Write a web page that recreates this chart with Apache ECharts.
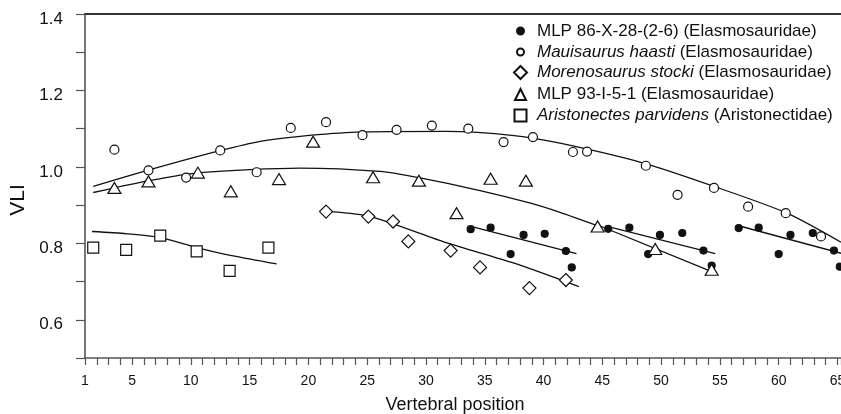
<!DOCTYPE html>
<html>
<head>
<meta charset="UTF-8">
<script src="https://cdn.jsdelivr.net/npm/echarts@6/dist/echarts.min.js"></script>
<style>
html, body { margin: 0; padding: 0; background: #fff; }
#main { width: 841px; height: 414px; }
</style>
</head>
<body>
<div id="main"></div>
<script>
// legend text
var species = ['MLP 86-X-28-(2-6)', 'Mauisaurus haasti', 'Morenosaurus stocki', 'MLP 93-I-5-1', 'Aristonectes parvidens'];
var families = ['Elasmosauridae', 'Elasmosauridae', 'Elasmosauridae', 'Elasmosauridae', 'Aristonectidae'];
var italic = [false, true, true, false, true];

// x axis labels shown
var xLabels = [1, 5, 10, 15, 20, 25, 30, 35, 40, 45, 50, 55, 60, 65];

// MLP 86-X-28-(2-6), filled dots
var mlp86X = [33.8, 35.5, 37.2, 38.3, 40.1, 41.9, 42.4,
              45.5, 47.3, 48.9, 49.9, 51.8, 53.6, 54.3,
              56.6, 58.3, 60.0, 61.0, 62.9, 64.7, 65.2];
var mlp86Y = [0.837, 0.841, 0.772, 0.822, 0.825, 0.780, 0.737,
              0.838, 0.841, 0.772, 0.822, 0.827, 0.781, 0.742,
              0.840, 0.841, 0.772, 0.822, 0.827, 0.781, 0.739];

// Mauisaurus haasti, open circles
var mauiX = [3.5, 6.4, 9.6, 12.5, 15.6, 18.5, 21.5, 24.6, 27.5, 30.5, 33.6, 36.6, 39.1, 42.5, 43.7, 48.7, 51.4, 54.5, 57.4, 60.6, 63.6];
var mauiY = [1.045, 0.991, 0.972, 1.043, 0.986, 1.102, 1.117, 1.083, 1.097, 1.108, 1.100, 1.065, 1.078, 1.039, 1.040, 1.003, 0.927, 0.945, 0.896, 0.879, 0.818];

// Morenosaurus stocki, diamonds
var moreX = [21.5, 25.1, 27.2, 28.5, 32.1, 34.6, 38.8, 41.9];
var moreY = [0.883, 0.870, 0.857, 0.805, 0.781, 0.737, 0.683, 0.704];

// MLP 93-I-5-1, triangles
var mlp93X = [3.5, 6.4, 10.6, 13.4, 17.5, 20.4, 25.5, 29.4, 32.6, 35.5, 38.5, 44.6, 49.5, 54.3];
var mlp93Y = [0.945, 0.962, 0.985, 0.936, 0.968, 1.066, 0.973, 0.964, 0.879, 0.969, 0.964, 0.844, 0.785, 0.731];

// Aristonectes parvidens, squares
var ariX = [1.7, 4.5, 7.4, 10.5, 13.3, 16.6];
var ariY = [0.789, 0.783, 0.820, 0.779, 0.728, 0.789];

// fitted curves
var fitMaui = [[1.7, 0.949], [6.45, 0.992], [12.55, 1.043], [15.9, 1.067], [19.3, 1.080], [24.1, 1.091], [31.8, 1.093],
               [37.5, 1.082], [41.4, 1.062], [48.5, 1.010], [54.5, 0.949], [60.7, 0.879], [65.3, 0.803]];
var fitMlp93 = [[1.7, 0.933], [6.45, 0.964], [10.8, 0.985], [19.3, 0.997], [26.1, 0.988], [29.5, 0.971],
                [34.6, 0.938], [38.9, 0.905], [41.4, 0.881], [44.6, 0.846]];
var fitMlp93b = [[44.6, 0.848], [54.3, 0.726]];
var fitMore = [[21.9, 0.883], [25.3, 0.870], [31.8, 0.801], [37.5, 0.748], [43.0, 0.687]];
var fitAri = [[1.6, 0.831], [4.55, 0.825], [7.4, 0.815], [10.5, 0.789], [13.6, 0.767], [17.3, 0.746]];
var fitMlp86a = [[33.9, 0.844], [42.8, 0.773]];
var fitMlp86b = [[45.5, 0.844], [54.6, 0.773]];
var fitMlp86c = [[56.6, 0.846], [65.3, 0.774]];

function zip(xs, ys) {
    return xs.map(function (x, i) { return [x, ys[i]]; });
}
function legendName(i) {
    return species[i] + ' (' + families[i] + ')';
}

var font = 'Liberation Sans, Arial, sans-serif';
var ink = '#111';

var markers = [
    { symbol: 'circle', size: 7, fill: ink },
    { symbol: 'circle', size: 9, fill: '#fff' },
    { symbol: 'diamond', size: 13, fill: '#fff' },
    { symbol: 'triangle', size: [13, 11], fill: '#fff' },
    { symbol: 'rect', size: 11, fill: '#fff' }
];
var pointSets = [zip(mlp86X, mlp86Y), zip(mauiX, mauiY), zip(moreX, moreY), zip(mlp93X, mlp93Y), zip(ariX, ariY)];

var series = [];
[fitMaui, fitMlp93, fitMlp93b, fitMore, fitAri, fitMlp86a, fitMlp86b, fitMlp86c].forEach(function (d) {
    series.push({
        type: 'line', data: d, smooth: 0.25, symbol: 'none',
        lineStyle: { color: ink, width: 1.3 }, silent: true, z: 1
    });
});
pointSets.forEach(function (d, i) {
    series.push({
        name: legendName(i), type: 'scatter', data: d,
        symbol: markers[i].symbol, symbolSize: markers[i].size, symbolKeepAspect: true,
        itemStyle: { color: markers[i].fill, borderColor: ink, borderWidth: 1.2, opacity: 1 },
        z: 3
    });
});

// one legend per row so each icon keeps its own size
var rowCenter = [31, 52, 72.5, 94.5, 115.5];
var iconSize = [7, 7, 13, 11, 12];
var iconLeft = 519.5;
var legends = species.map(function (s, i) {
    return {
        data: [{ name: legendName(i), icon: markers[i].symbol }],
        left: iconLeft - iconSize[i] / 2, top: rowCenter[i] - 8.5, padding: 0,
        itemWidth: iconSize[i], itemHeight: iconSize[i],
        symbolKeepAspect: true,
        selectedMode: false,
        formatter: function () {
            var gap = Math.round((536 - 5 - iconLeft - iconSize[i] / 2));
            var pad = '{g|}';
            return italic[i] ? pad + '{i|' + species[i] + '} (' + families[i] + ')' : pad + legendName(i);
        },
        textStyle: {
            fontSize: 17, color: ink, fontFamily: font,
            rich: {
                i: { fontSize: 17, fontStyle: 'italic', color: ink, fontFamily: font },
                g: { width: 536 - 5 - iconLeft - iconSize[i] / 2 }
            }
        }
    };
});

var chart = echarts.init(document.getElementById('main'));
chart.setOption({
    animation: false,
    backgroundColor: '#fff',
    grid: { left: 85, right: 0, top: 14, bottom: 56, outerBoundsMode: 'none' },
    legend: legends,
    xAxis: [{
        type: 'value', min: 1, max: 65.3, interval: 1,
        name: 'Vertebral position', nameLocation: 'middle', nameGap: 38,
        nameTextStyle: { fontSize: 18, color: ink, fontFamily: font, padding: [0, 16, 0, 0] },
        axisLine: { lineStyle: { color: '#555', width: 1.6 } },
        axisTick: { length: 7, lineStyle: { color: '#555', width: 1.2 } },
        axisLabel: {
            fontSize: 14, color: ink, fontFamily: font, margin: 16,
            formatter: function (v) { return xLabels.indexOf(v) >= 0 ? String(v) : ''; }
        },
        splitLine: { show: false }
    }, {
        type: 'value', position: 'top', min: 1, max: 65.3,
        axisLine: { show: true, lineStyle: { color: '#333', width: 1.8 } },
        axisTick: { show: false }, axisLabel: { show: false }, splitLine: { show: false }
    }],
    yAxis: {
        type: 'value', min: 0.5, max: 1.4, interval: 0.1,
        name: 'VLI', nameLocation: 'middle', nameGap: 56,
        nameTextStyle: { fontSize: 21, color: ink, fontFamily: font, padding: [0, 28, 0, 0] },
        axisLine: { lineStyle: { color: '#555', width: 1.6 } },
        axisTick: { length: 9, lineStyle: { color: '#555', width: 1.2 } },
        axisLabel: {
            fontSize: 17, color: ink, fontFamily: font, margin: 22,
            verticalAlign: 'top', lineHeight: 10,
            formatter: function (v) { return Math.round(v * 10) % 2 === 0 ? v.toFixed(1) : ''; }
        },
        splitLine: { show: false }
    },
    series: series
});
</script>
</body>
</html>
